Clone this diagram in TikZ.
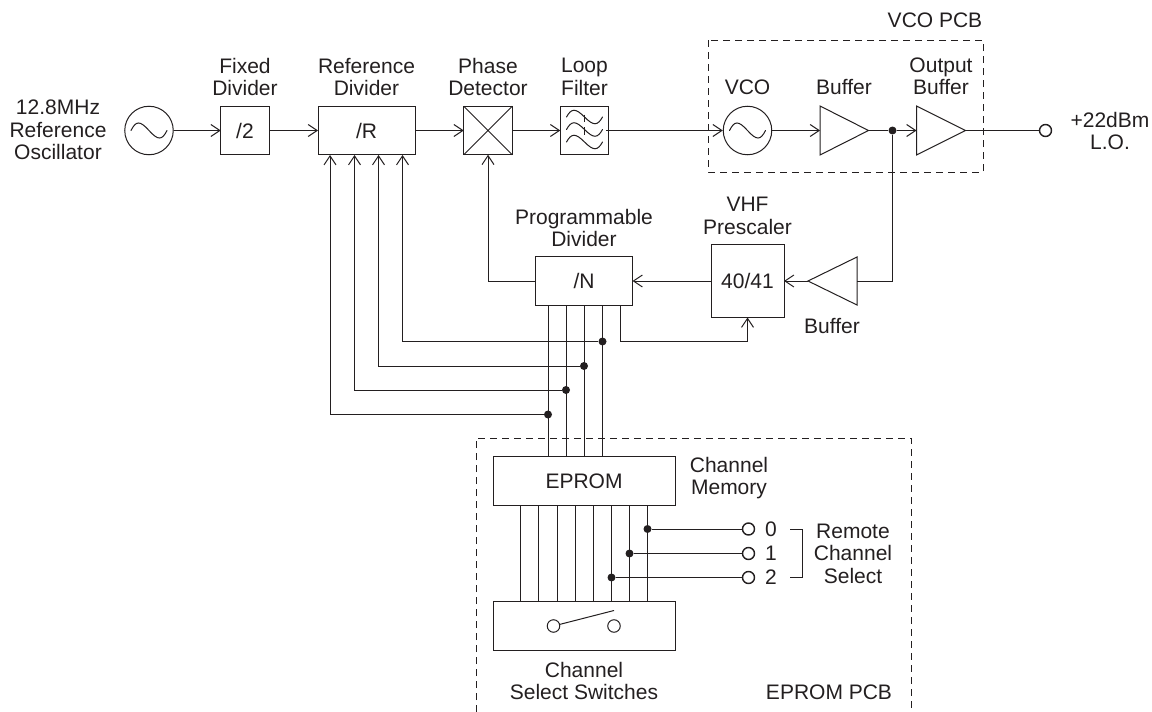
\documentclass[tikz,border=0pt]{standalone}
\usepackage{fontspec}
\setmainfont{Liberation Sans}
\usetikzlibrary{arrows.meta,calc}
\definecolor{ink}{HTML}{231F20}
\tikzset{
  x=1pt,y=-1pt,
  wire/.style={draw=ink,line width=1pt},
  arr/.style={wire,-{Straight Barb[length=9pt,width=12pt,line width=1pt]}},
  blockbox/.style={draw=ink,line width=1pt,fill=white,inner sep=0pt,outer sep=0pt,text=ink},
  amp/.style={draw=ink,line width=1pt,fill=white},
  pcb/.style={draw=ink,line width=1pt,dash pattern=on 7pt off 5pt},
  lbl/.style={text=ink,align=center,inner sep=0pt,font=\fontsize{21}{22.5}\selectfont},
  dot/.style={circle,fill=ink,draw=none,minimum size=8pt,inner sep=0pt},
  term/.style={circle,draw=ink,line width=1.4pt,fill=white,minimum size=12pt,inner sep=0pt},
  swterm/.style={circle,draw=ink,line width=1pt,fill=white,minimum size=12.5pt,inner sep=0pt},
  osc/.style={circle,draw=ink,line width=1pt,fill=white,minimum size=48.5pt,inner sep=0pt},
  tilde/.style={draw=ink,line width=1pt,line cap=round}
}
\newcommand{\tildeat}[4]{% centre x, centre y, half width, amplitude factor
  \draw[tilde,shift={(#1,#2)}] (-#3,0) .. controls (-#3+5,-#4) and (-#3+9,-#4) .. (0,0) .. controls (#3-9,#4) and (#3-5,#4) .. (#3,0);}
\begin{document}
\begin{tikzpicture}
\useasboundingbox (0,0) rectangle (1152,712);
% PCB outlines
\draw[pcb] (708,40) rectangle (983,172);
\draw[pcb] (476,712) -- (476,438) -- (911,438) -- (911,712);
% top chain
\node[osc] (osc) at (149,130.5) {};
\node[blockbox,minimum width=48.5pt,minimum height=48.5pt,font=\fontsize{21}{23}\selectfont] (fix) at (245,130.5) {/2};
\node[blockbox,minimum width=97pt,minimum height=48.5pt,font=\fontsize{21}{23}\selectfont] (refdiv) at (366.5,130.5) {/R};
\node[blockbox,minimum width=48.5pt,minimum height=48.5pt] (pd) at (488,130.5) {};
\draw[wire] (pd.north west) -- (pd.south east) (pd.north east) -- (pd.south west);
\node[blockbox,minimum width=48.5pt,minimum height=48.5pt] (lf) at (584.5,130.5) {};
\node[osc] (vco) at (747.5,130.5) {};
\draw[amp] (820,106) coordinate (b1a) -- (868.5,130.5) coordinate (b1t) -- (820,155) coordinate (b1b) -- cycle;
\draw[amp] (916.5,106) coordinate (b2a) -- (965.5,130.5) coordinate (b2t) -- (916.5,155) coordinate (b2b) -- cycle;
\coordinate (b1in) at (820,130.5);
\coordinate (b2in) at (916.5,130.5);
\node[dot] (j0) at (892.5,130.5) {};
\node[term] (lo) at (1045.5,130.5) {};
% lower row
\node[blockbox,minimum width=97pt,minimum height=48.5pt,font=\fontsize{21}{23}\selectfont] (ndiv) at (584,281) {/N};
\node[blockbox,minimum width=73pt,minimum height=73pt,font=\fontsize{21}{23}\selectfont] (pre) at (747.5,281) {40/41};
\draw[amp] (857,257) coordinate (b3a) -- (808,281) coordinate (b3t) -- (857,305) coordinate (b3b) -- cycle;
\coordinate (b3in) at (857,281);
% EPROM
\node[blockbox,minimum width=182pt,minimum height=48.5pt,font=\fontsize{21}{23}\selectfont] (ep) at (584,481) {EPROM};
\node[blockbox,minimum width=182pt,minimum height=48.5pt] (sw) at (584,626) {};
\node[swterm] (s1) at (553.5,626) {};
\node[swterm] (s2) at (614,626) {};
\coordinate (lev) at (614,610.5);
\draw[wire] (s1) -- (lev);
% oscillator tildes
\tildeat{149}{130.5}{18}{10}
\tildeat{747.5}{130.5}{18}{10}
% filter curves
\tildeat{584.5}{117}{18}{9}
\tildeat{584.5}{129.5}{18}{9}
\tildeat{584.5}{142}{18}{9}
\draw[wire] (584,114.5) -- (584,122) (584,127) -- (584,134.5);
% top wires
\draw[arr] (osc) -- (fix);
\draw[arr] (fix) -- (refdiv);
\draw[arr] (refdiv) -- (pd);
\draw[arr] (pd) -- (lf);
\draw[arr] ($(lf.east)+(-3,0)$) -- (vco);
\draw[arr] (vco) -- (b1in);
\draw[wire] (b1t) -- (j0);
\draw[arr] (j0) -- (b2in);
\draw[wire] (b2t) -- (lo);
% feedback
\draw[wire] (j0) |- (b3in);
\draw[arr] (b3t) -- (pre.east);
\draw[arr] (pre.west) -- (ndiv.east);
\draw[arr] (ndiv.west) -| (pd.south);
\coordinate (nc) at (620.5,305.25);
\draw[arr] (nc) |- (680,341.5) -| (pre.south);
% bus
\foreach \n/\x/\y/\t in {a/548/414.5/330,b/566/390/354.5,c/584/366/378.5,d/602.5/341.5/402.5}{
  \coordinate (t\n) at (\x,305.25);
  \coordinate (e\n) at (\x,456.75);
  \draw[wire] (t\n) -- (e\n);
  \node[dot] (j\n) at (\x,\y) {};
  \coordinate (r\n) at (\t,155);
  \draw[arr] (j\n) -| (r\n);
}
% eprom to switch
\foreach \x in {520.5,538.5,557,575,593.5,611.5,629.5,647.5}{
  \coordinate (ea) at (\x,505.25);
  \coordinate (eb) at (\x,601.75);
  \draw[wire] (ea) -- (eb);
}
\node[dot] (r0j) at (647.5,529) {};
\node[dot] (r1j) at (629.5,553.5) {};
\node[dot] (r2j) at (611.5,577.5) {};
\node[term] (r0) at (748.5,529) {};
\node[term] (r1) at (748.5,553.5) {};
\node[term] (r2) at (748.5,577.5) {};
\draw[wire] (r0j) -- (r0);
\draw[wire] (r1j) -- (r1);
\draw[wire] (r2j) -- (r2);
\coordinate (bk0) at (790,529);
\coordinate (bk1) at (802.5,529);
\coordinate (bk2) at (802.5,577.5);
\coordinate (bk3) at (790,577.5);
\draw[wire] (bk0) -- (bk1) -- (bk2) -- (bk3);
% labels
\node[lbl] (l1) at (58,130) {12.8MHz\\Reference\\Oscillator};
\node[lbl] (l2) at (245,77) {Fixed\\Divider};
\node[lbl] (l3) at (366.5,77) {Reference\\Divider};
\node[lbl] (l4) at (488,77) {Phase\\Detector};
\node[lbl] (l5) at (584.5,77) {Loop\\Filter};
\node[lbl] (l6) at (747.5,87) {VCO};
\node[lbl] (l7) at (844,87) {Buffer};
\node[lbl] (l8) at (941,76.5) {Output\\Buffer};
\node[lbl] (l9) at (935,20) {VCO PCB};
\node[lbl] (l10) at (1110,131) {+22dBm\\L.O.};
\node[lbl] (l11) at (584,228) {Programmable\\Divider};
\node[lbl] (l12) at (747.5,216) {VHF\\Prescaler};
\node[lbl] (l13) at (832,326) {Buffer};
\node[lbl] (l14) at (729,478) {Channel\\Memory};
\node[lbl] (l15) at (771,529) {0};
\node[lbl] (l16) at (771,553.5) {1};
\node[lbl] (l17) at (771,577.5) {2};
\node[lbl] (l18) at (853,553.5) {Remote\\Channel\\Select};
\node[lbl] (l19) at (584,681) {Channel\\Select Switches};
\node[lbl] (l20) at (829,692) {EPROM PCB};
\end{tikzpicture}
\end{document}
